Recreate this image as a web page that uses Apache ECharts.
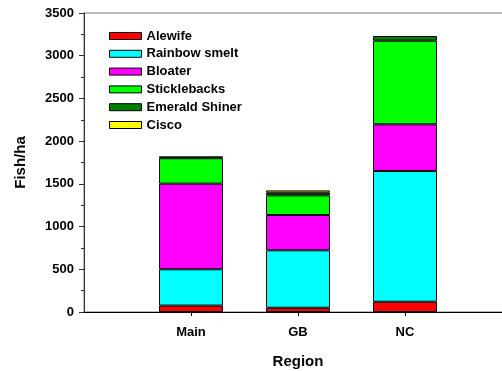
<!DOCTYPE html>
<html>
<head>
<meta charset="utf-8">
<script src="https://cdn.jsdelivr.net/npm/echarts@6/dist/echarts.min.js"></script>
<style>
  html, body { margin: 0; padding: 0; background: #fff; }
  #chart { width: 502px; height: 371px; }
</style>
</head>
<body>
<div id="chart"></div>
<script>
// Fish density by region, stacked by species (Fish/ha)
const regions = ['', 'Main', 'GB', 'NC', ''];
const alewife      = [null, 75, 50, 120, null];
const rainbowSmelt = [null, 425, 672, 1530, null];
const bloater      = [null, 1002, 413, 547, null];
const sticklebacks = [null, 298, 231, 979, null];
const emerald      = [null, 22, 30, 55, null];
const cisco        = [null, null, 27, null, null];
const yTicks = [0, 500, 1000, 1500, 2000, 2500, 3000, 3500];

const speciesNames = ['Alewife', 'Rainbow smelt', 'Bloater', 'Sticklebacks', 'Emerald Shiner', 'Cisco'];
const speciesData = [alewife, rainbowSmelt, bloater, sticklebacks, emerald, cisco];
const speciesColors = ['#ff0000', '#00ffff', '#ff00ff', '#00ff00', '#007f00', '#ffff00'];

const font = 'Arial, "Liberation Sans", sans-serif';

const chart = echarts.init(document.getElementById('chart'), null, { renderer: 'canvas' });

chart.setOption({
  animation: false,
  backgroundColor: '#fff',
  grid: {
    left: 84, right: -10, top: 13, bottom: 59,
    outerBoundsMode: 'none',
    containLabel: false,
    show: true, borderColor: '#777', borderWidth: 1, backgroundColor: 'transparent'
  },
  legend: {
    orient: 'vertical',
    left: 104, top: 24,
    itemWidth: 32, itemHeight: 7, itemGap: 3.8,
    textStyle: { fontFamily: font, fontWeight: 'bold', fontSize: 13, color: '#000', lineHeight: 14 },
    data: speciesNames.map((n, i) => ({
      name: n, icon: 'rect',
      itemStyle: { color: speciesColors[i], borderColor: '#000', borderWidth: 1 }
    }))
  },
  xAxis: {
    type: 'category',
    data: regions,
    boundaryGap: false,
    name: 'Region',
    nameLocation: 'middle',
    nameGap: 42,
    nameTextStyle: { fontFamily: font, fontWeight: 'bold', fontSize: 15, color: '#000' },
    axisLine: { lineStyle: { color: '#000', width: 1 } },
    axisTick: { length: 4, lineStyle: { color: '#000' }, interval: (i) => i >= 1 && i <= 3 },
    axisLabel: { fontFamily: font, fontWeight: 'bold', fontSize: 13, color: '#000', margin: 14 },
    splitLine: { show: false }
  },
  yAxis: {
    type: 'value',
    min: yTicks[0], max: yTicks[yTicks.length - 1], interval: 500,
    name: 'Fish/ha',
    nameLocation: 'middle',
    nameGap: 56,
    nameTextStyle: { fontFamily: font, fontWeight: 'bold', fontSize: 15, color: '#000' },
    axisLine: { show: true, lineStyle: { color: '#333', width: 1 } },
    axisTick: { show: true, length: 5, lineStyle: { color: '#333' } },
    minorTick: { show: true, splitNumber: 2, length: 3, lineStyle: { color: '#333' } },
    axisLabel: {
      fontFamily: font, fontWeight: 'bold', fontSize: 13, color: '#000', margin: 10,
      formatter: (v) => String(v)
    },
    splitLine: { show: false }
  },
  series: speciesNames.map((n, i) => ({
    name: n,
    type: 'bar',
    stack: 'fish',
    barWidth: 64,
    data: speciesData[i],
    itemStyle: { color: speciesColors[i], borderColor: '#000', borderWidth: 1 }
  }))
});
</script>
</body>
</html>
